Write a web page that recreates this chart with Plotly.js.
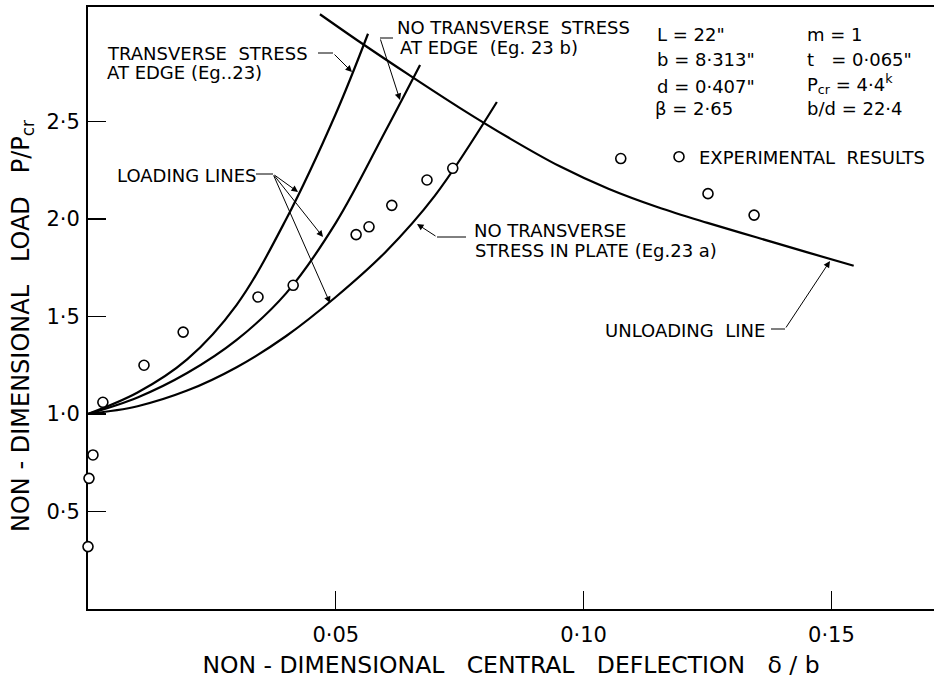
<!DOCTYPE html>
<html>
<head>
<meta charset="utf-8">
<script src="https://cdn.plot.ly/plotly-3.0.1.min.js"></script>
<style>html,body{margin:0;padding:0;background:#fff;}#chart{width:934px;height:679px;}</style>
</head>
<body>
<div id="chart"></div>
<script>
// ---- data ----
const edgeStressDelta   = [0, 0.01, 0.02, 0.03, 0.04, 0.05, 0.0565];
const edgeStressLoad    = [1.0, 1.11, 1.28, 1.56, 2.00, 2.54, 2.95];
const noEdgeStressDelta = [0, 0.01, 0.02, 0.03, 0.04, 0.05, 0.06, 0.067];
const noEdgeStressLoad  = [1.0, 1.085, 1.21, 1.38, 1.62, 1.98, 2.45, 2.79];
const noPlateStressDelta = [0, 0.01, 0.02, 0.03, 0.04, 0.05, 0.06, 0.07, 0.0825];
const noPlateStressLoad  = [1.0, 1.04, 1.12, 1.24, 1.40, 1.60, 1.83, 2.12, 2.60];
const unloadDelta = [0.0468, 0.055, 0.065, 0.075, 0.085, 0.0952, 0.105, 0.115, 0.125, 0.135, 0.145, 0.1545];
const unloadLoad  = [3.05, 2.905, 2.735, 2.57, 2.415, 2.27, 2.155, 2.06, 1.98, 1.905, 1.83, 1.76];
const expDelta = [0, 0.0002, 0.001, 0.003, 0.0113, 0.0192, 0.0343, 0.0414, 0.0541, 0.0567, 0.0613, 0.0684, 0.0736, 0.1075, 0.1251, 0.1344];
const expLoad  = [0.32, 0.67, 0.79, 1.06, 1.25, 1.42, 1.60, 1.66, 1.92, 1.96, 2.07, 2.20, 2.26, 2.31, 2.13, 2.02];
const xTickVals = [0.05, 0.10, 0.15];
const xTickText = ["0·05", "0·10", "0·15"];
const yTickVals = [0.5, 1.0, 1.5, 2.0, 2.5];
const yTickText = ["0·5", "1·0", "1·5", "2·0", "2·5"];

// ---- layout geometry ----
const M = {l: 88, r: 0, t: 7, b: 70};
const W = 934, H = 679;
const PW = W - M.l - M.r, PH = H - M.t - M.b;
const xR = [0, PW / 4956];
const yR = [0, PH / 195];
const X = px => xR[0] + (px - M.l) / PW * (xR[1] - xR[0]);
const Y = py => yR[0] + (M.t + PH - py) / PH * (yR[1] - yR[0]);
const FONT = "DejaVu Sans";

const curve = (x, y) => ({x, y, type: 'scatter', mode: 'lines', line: {color: '#000', width: 2.2, shape: 'spline', smoothing: 1}, showlegend: false, hoverinfo: 'skip', cliponaxis: false});

const traces = [
  curve(edgeStressDelta, edgeStressLoad),
  curve(noEdgeStressDelta, noEdgeStressLoad),
  curve(noPlateStressDelta, noPlateStressLoad),
  curve(unloadDelta, unloadLoad),
  {x: expDelta, y: expLoad, type: 'scatter', mode: 'markers', name: 'EXPERIMENTAL\u00a0\u00a0RESULTS',
   marker: {symbol: 'circle', size: 10, color: '#fff', line: {color: '#000', width: 1.6}},
   cliponaxis: false, showlegend: true}
];

function txt(px, py, text, anchor, size) {
  return {xref: 'x', yref: 'y', x: X(px), y: Y(py), text, showarrow: false,
          xanchor: anchor || 'left', yanchor: 'middle', align: 'left',
          font: {family: FONT, size: size || 18, color: '#000'}};
}
function arrow(tx, ty, hx, hy) {
  return {xref: 'x', yref: 'y', x: X(hx), y: Y(hy), ax: tx - hx, ay: ty - hy, text: '',
          showarrow: true, arrowhead: 2, arrowsize: 1.3, arrowwidth: 1, arrowcolor: '#000', standoff: 0, startstandoff: 0};
}
function lead(x0, y0, x1, y1) {
  return {type: 'line', xref: 'x', yref: 'y', x0: X(x0), y0: Y(y0), x1: X(x1), y1: Y(y1), line: {color: '#000', width: 1}};
}

const annotations = [
  txt(105, 53, 'TRANSVERSE\u00a0\u00a0STRESS'),
  txt(105, 72, 'AT EDGE (Eg..23)'),
  arrow(333, 53, 352, 72),
  txt(395, 27, 'NO TRANSVERSE\u00a0\u00a0STRESS'),
  txt(398, 47, 'AT EDGE\u00a0\u00a0(Eg. 23 b)'),
  arrow(380, 38, 400, 100),
  txt(115, 175, 'LOADING LINES'),
  arrow(273, 174, 298, 192),
  arrow(273, 174, 323, 237),
  arrow(273, 174, 330, 303),
  txt(472, 230, 'NO TRANSVERSE'),
  txt(473, 250, 'STRESS IN PLATE (Eg.23 a)'),
  arrow(437, 237, 417, 224),
  txt(767, 330, 'UNLOADING\u00a0\u00a0LINE', 'right'),
  arrow(785, 329, 830, 261),
  txt(655, 34, 'L = 22"'),
  txt(655, 59, 'b = 8·313"'),
  txt(655, 86, 'd = 0·407"'),
  txt(653, 108, 'β = 2·65'),
  txt(805, 34, 'm = 1'),
  txt(805, 59, 't\u00a0\u00a0\u00a0= 0·065"'),
  txt(805, 84, 'P<sub>cr</sub> = 4·4<sup>k</sup>'),
  txt(805, 108, 'b/d = 22·4'),
  {xref: 'paper', yref: 'paper', x: (22 - M.l) / PW, y: (M.t + PH - 326) / PH, textangle: -90,
   text: 'NON - DIMENSIONAL\u00a0\u00a0 LOAD\u00a0\u00a0 P/P<sub>cr</sub>', showarrow: false,
   xanchor: 'center', yanchor: 'middle', font: {family: FONT, size: 24, color: '#000'}}
];

const shapes = [
  lead(318, 53, 333, 53),
  lead(393, 38, 380, 38),
  lead(256, 174, 273, 174),
  lead(466, 237, 437, 237),
  lead(771, 329, 785, 329)
];

const layout = {
  width: W, height: H,
  margin: M,
  paper_bgcolor: '#fff', plot_bgcolor: '#fff',
  font: {family: FONT, color: '#000'},
  showlegend: true,
  legend: {x: (659 - M.l) / PW, y: (M.t + PH - 157) / PH, xanchor: 'left', yanchor: 'middle',
           bgcolor: 'rgba(0,0,0,0)', borderwidth: 0, font: {family: FONT, size: 18, color: '#000'}},
  xaxis: {range: xR, showgrid: false, zeroline: false, showline: true, linecolor: '#000', linewidth: 2,
          mirror: true, ticks: 'inside', ticklen: 18, tickwidth: 1.2, tickcolor: '#000',
          tickvals: xTickVals, ticktext: xTickText, tickfont: {family: FONT, size: 21, color: '#000'},
          ticklabelstandoff: 6, layer: 'below traces',
          title: {text: 'NON - DIMENSIONAL\u00a0\u00a0 CENTRAL\u00a0\u00a0 DEFLECTION\u00a0\u00a0 δ / b', standoff: 12,
                  font: {family: FONT, size: 23.5, color: '#000'}}},
  yaxis: {range: yR, showgrid: false, zeroline: false, showline: true, linecolor: '#000', linewidth: 2,
          ticks: 'inside', ticklen: 18, tickwidth: 1.2, tickcolor: '#000',
          tickvals: yTickVals, ticktext: yTickText, tickfont: {family: FONT, size: 21, color: '#000'},
          ticklabelstandoff: 2, layer: 'below traces'},
  annotations, shapes
};

Plotly.newPlot('chart', traces, layout, {staticPlot: true, displayModeBar: false});
</script>
</body>
</html>
